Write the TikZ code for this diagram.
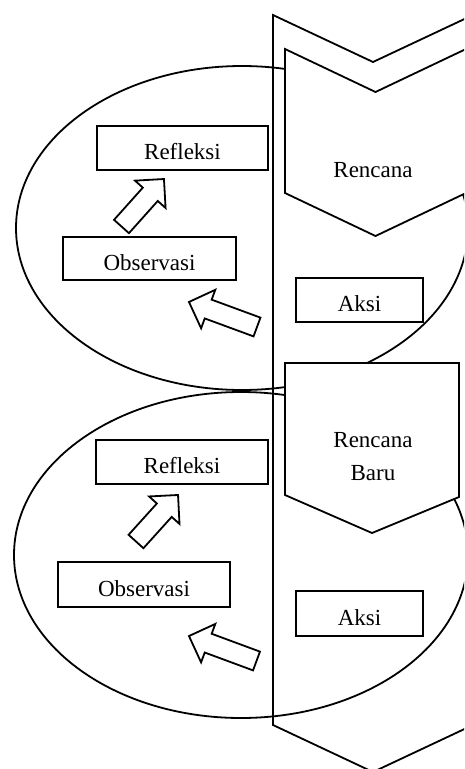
\documentclass[tikz,border=0pt]{standalone}
\usepackage{fontspec}
\setmainfont{Liberation Serif}
\newcommand\blkarrow[4]{%
  \begin{scope}[shift={(#1,#2)},rotate=#3]
    \draw[blk] (0,-10) -- (#4-20.5,-10) -- (#4-20.5,-20.5) -- (#4,0) -- (#4-20.5,20.5) -- (#4-20.5,10) -- (0,10) -- cycle;
  \end{scope}}
\begin{document}
\begin{tikzpicture}[x=1pt,y=-1pt,line width=1.8pt,line join=miter,
  panel/.style={draw=black,fill=white},
  outline/.style={draw=black},
  box/.style={draw=black,fill=white,inner sep=0pt,text height=23pt,text depth=0pt,font=\fontsize{23}{27}\selectfont},
  lbl/.style={font=\fontsize{23}{27}\selectfont,inner sep=0pt,anchor=base},
  blk/.style={draw=black,fill=white,line join=miter}]
\useasboundingbox (0,0) rectangle (464,769);
\clip (0,0) rectangle (464,769);
% outer chevron
\draw[panel] (273,15) -- (373,62) -- (473,15) -- (473,725) -- (373,772) -- (273,725) -- cycle;
% cycles
\draw[outline] (242,228) ellipse [x radius=226,y radius=162];
\draw[outline] (241,555) ellipse [x radius=227,y radius=163];
% plan shapes
\draw[panel] (285,49) -- (375.5,92) -- (466,49) -- (466,193) -- (375.5,236) -- (285,193) -- cycle;
\node[lbl] (rencana) at (373,177) {Rencana};
\draw[panel] (285,363) -- (459,363) -- (459,497) -- (372,533) -- (285,495) -- cycle;
\node[lbl] (baru1) at (373,447) {Rencana};
\node[lbl] (baru2) at (373,480) {Baru};
% boxes
\node[box,minimum width=171,minimum height=44] (refl1) at (182.5,148) {Refleksi};
\node[box,minimum width=173,minimum height=43] (obs1) at (149.5,258.5) {Observasi};
\node[box,minimum width=127,minimum height=44] (aksi1) at (359.5,300) {Aksi};
\node[box,minimum width=172,minimum height=44] (refl2) at (182,462) {Refleksi};
\node[box,minimum width=172,minimum height=45] (obs2) at (144,584.5) {Observasi};
\node[box,minimum width=127,minimum height=45] (aksi2) at (359.5,613.5) {Aksi};
% block arrows
\blkarrow{121.5}{226.5}{48.2}{63.7}
\blkarrow{257}{327}{159.8}{72.5}
\blkarrow{136}{541.5}{47.9}{62.7}
\blkarrow{256.5}{661}{159.7}{72}
\end{tikzpicture}
\end{document}
